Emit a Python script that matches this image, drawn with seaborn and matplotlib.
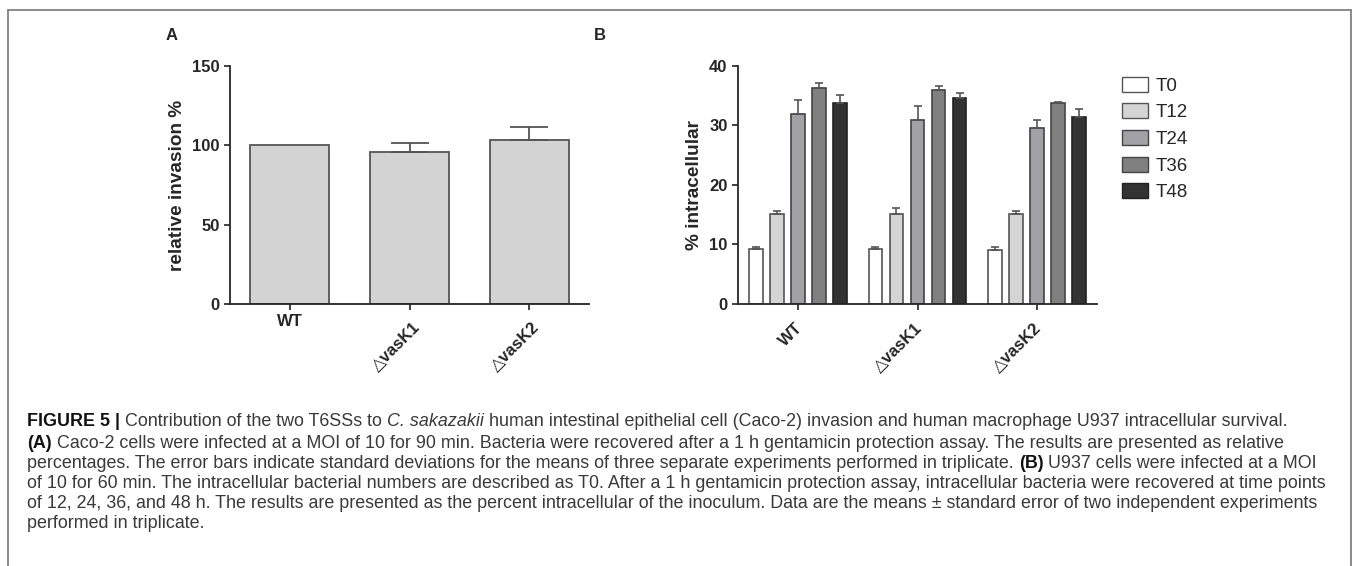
import numpy as np
import pandas as pd
import matplotlib
matplotlib.use("Agg")
import matplotlib.pyplot as plt
from matplotlib.patches import Patch
from matplotlib.lines import Line2D
import matplotlib.transforms as mtrans
import seaborn as sns

# ---------------- data ----------------
strains = ["WT", "\u25B3vasK1", "\u25B3vasK2"]
invasion_mean = [100.0, 96.0, 103.3]
invasion_err = [0.0, 5.6, 8.0]

timepoints = ["T0", "T12", "T24", "T36", "T48"]
wt_vals = [9.2, 15.2, 31.9, 36.3, 33.7]
wt_err = [0.4, 0.5, 2.4, 0.9, 1.5]
vk1_vals = [9.3, 15.2, 30.9, 35.9, 34.6]
vk1_err = [0.3, 0.9, 2.4, 0.7, 0.9]
vk2_vals = [9.0, 15.2, 29.5, 33.7, 31.4]
vk2_err = [0.6, 0.5, 1.5, 0.3, 1.3]

time_colors = ["#ffffff", "#d4d4d4", "#a2a2a6", "#808080", "#333333"]
time_edges = ["#555555", "#555555", "#444444", "#444444", "#222222"]

caption_lines = [
    [("FIGURE 5 |", "bold", "normal"), (" Contribution of the two T6SSs to ", "normal", "normal"),
     ("C. sakazakii", "normal", "italic"),
     (" human intestinal epithelial cell (Caco-2) invasion and human macrophage U937 intracellular survival.", "normal", "normal")],
    [("(A)", "bold", "normal"),
     (" Caco-2 cells were infected at a MOI of 10 for 90 min. Bacteria were recovered after a 1 h gentamicin protection assay. The results are presented as relative", "normal", "normal")],
    [("percentages. The error bars indicate standard deviations for the means of three separate experiments performed in triplicate. ", "normal", "normal"),
     ("(B)", "bold", "normal"), (" U937 cells were infected at a MOI", "normal", "normal")],
    [("of 10 for 60 min. The intracellular bacterial numbers are described as T0. After a 1 h gentamicin protection assay, intracellular bacteria were recovered at time points", "normal", "normal")],
    [("of 12, 24, 36, and 48 h. The results are presented as the percent intracellular of the inoculum. Data are the means \u00B1 standard error of two independent experiments", "normal", "normal")],
    [("performed in triplicate.", "normal", "normal")],
]

# ---------------- style ----------------
sns.set_theme(style="ticks")
plt.rcParams["font.family"] = ["Liberation Sans", "DejaVu Sans"]
plt.rcParams["axes.linewidth"] = 1.3

W, H = 1358, 566
fig = plt.figure(figsize=(W / 100, H / 100), dpi=100)

def fx(px):
    return px / W

def fy(py):
    return 1 - py / H

axA = fig.add_axes([fx(230), fy(304), fx(589) - fx(230), fy(66) - fy(304)])
axB = fig.add_axes([fx(738), fy(304), fx(1097) - fx(738), fy(66) - fy(304)])

# ---------------- panel A ----------------
dfA = pd.DataFrame({"strain": strains, "value": invasion_mean})
sns.barplot(data=dfA, x="strain", y="value", ax=axA, color="#d3d3d3",
            edgecolor="#555555", linewidth=1.3, width=0.66, errorbar=None,
            saturation=1)
barsA = list(axA.containers[0])
for bar, m, e in zip(barsA, invasion_mean, invasion_err):
    if e > 0:
        cx = bar.get_x() + bar.get_width() / 2
        axA.errorbar([cx], [m], yerr=[[0], [e]], fmt="none", ecolor="#555555",
                     elinewidth=1.3, capsize=14, capthick=1.3)
axA.set_ylim(0, 150)
axA.set_xlim(-0.5, 2.5)
axA.set_yticks([0, 50, 100, 150])
axA.set_ylabel("relative invasion %", fontsize=13.7, fontweight="bold")
axA.yaxis.set_label_coords(-0.123, 0.5)
axA.set_xlabel("")
sns.despine(ax=axA)
axA.tick_params(axis="both", length=4, width=1.3, color="#333333", labelsize=12)
for lab in axA.get_yticklabels():
    lab.set_fontweight("bold")
xlabsA = axA.get_xticklabels()
for i, lab in enumerate(xlabsA):
    lab.set_fontweight("bold")
    if i == 0:
        lab.set_rotation(0)
        lab.set_ha("center")
    else:
        lab.set_rotation(45)
        lab.set_ha("right")
        lab.set_rotation_mode("anchor")
        lab.set_va("center")
        lab.set_transform(lab.get_transform() + mtrans.ScaledTranslation(0.08, -0.10, fig.dpi_scale_trans))

# ---------------- panel B ----------------
rows = []
for s, vals, errs in zip(strains, [wt_vals, vk1_vals, vk2_vals], [wt_err, vk1_err, vk2_err]):
    for t, v, e in zip(timepoints, vals, errs):
        rows.append({"strain": s, "time": t, "value": v, "err": e})
dfB = pd.DataFrame(rows)
sns.barplot(data=dfB, x="strain", y="value", hue="time", ax=axB,
            palette=time_colors, errorbar=None, width=0.88, gap=0.35,
            linewidth=1.2, saturation=1, legend=False)
bar_conts = list(axB.containers)
for ci, cont in enumerate(bar_conts):
    t = timepoints[ci]
    sub = dfB[dfB["time"] == t]
    for bar, (_, r) in zip(cont, sub.iterrows()):
        bar.set_edgecolor(time_edges[ci])
        cx = bar.get_x() + bar.get_width() / 2
        axB.errorbar([cx], [r["value"]], yerr=[[0], [r["err"]]], fmt="none",
                     ecolor="#555555", elinewidth=1.2, capsize=2.8, capthick=1.2)
axB.set_ylim(0, 40)
axB.set_xlim(-0.5, 2.5)
axB.set_yticks([0, 10, 20, 30, 40])
axB.set_ylabel("% intracellular", fontsize=13.7, fontweight="bold")
axB.yaxis.set_label_coords(-0.097, 0.5)
axB.set_xlabel("")
sns.despine(ax=axB)
axB.tick_params(axis="both", length=4, width=1.3, color="#333333", labelsize=12)
for lab in axB.get_yticklabels():
    lab.set_fontweight("bold")
for lab in axB.get_xticklabels():
    lab.set_fontweight("bold")
    lab.set_rotation(45)
    lab.set_ha("right")
    lab.set_rotation_mode("anchor")
    lab.set_va("center")
    lab.set_transform(lab.get_transform() + mtrans.ScaledTranslation(0.02, -0.11, fig.dpi_scale_trans))

handles = [Patch(facecolor=c, edgecolor=e, linewidth=1.0) for c, e in zip(time_colors, time_edges)]
fig.legend(handles, timepoints, loc="upper left", bbox_to_anchor=(fx(1105), fy(60)),
           frameon=False, fontsize=13.5, handlelength=1.4, handleheight=0.85,
           labelspacing=0.46, handletextpad=0.4)

# panel letters
fig.text(fx(172), fy(36), "A", fontsize=12, fontweight="bold", ha="center", va="center")
fig.text(fx(600), fy(36), "B", fontsize=12, fontweight="bold", ha="center", va="center")

# frame
fcol = "#777777"
fig.add_artist(Line2D([fx(8), fx(8)], [fy(10), -0.01], color=fcol, lw=1.2))
fig.add_artist(Line2D([fx(8), fx(1351)], [fy(10), fy(10)], color=fcol, lw=1.2))
fig.add_artist(Line2D([fx(1351), fx(1351)], [fy(10), -0.01], color=fcol, lw=1.2))

# caption
renderer = fig.canvas.get_renderer()

def draw_line(ln, yy, size, x0=27):
    sp = fig.text(0, 0, "a a", fontsize=size)
    sp2 = fig.text(0, 0, "aa", fontsize=size)
    spw = sp.get_window_extent(renderer).width - sp2.get_window_extent(renderer).width
    sp.remove(); sp2.remove()
    x = x0
    arts = []
    for txt, wt, st in ln:
        lead = len(txt) - len(txt.lstrip(" "))
        core = txt.strip(" ")
        trail = len(txt) - len(txt.rstrip(" "))
        x += lead * spw
        col = "#111111" if wt == "bold" else "#3a3a3a"
        t = fig.text(fx(x), fy(yy), core, fontsize=size, fontweight=wt, fontstyle=st,
                     ha="left", va="center", color=col)
        arts.append(t)
        x += t.get_window_extent(renderer).width + trail * spw
    return x, arts

probe_end, probe_arts = draw_line(caption_lines[0], 422, 12.0)
for a in probe_arts:
    a.remove()
cap_size = 12.0 * (1288 - 27) / (probe_end - 27)

line_y = [422, 443, 463, 483, 503, 524]
for ln, yy in zip(caption_lines, line_y):
    draw_line(ln, yy, cap_size)

fig.savefig("out.png", dpi=100)
